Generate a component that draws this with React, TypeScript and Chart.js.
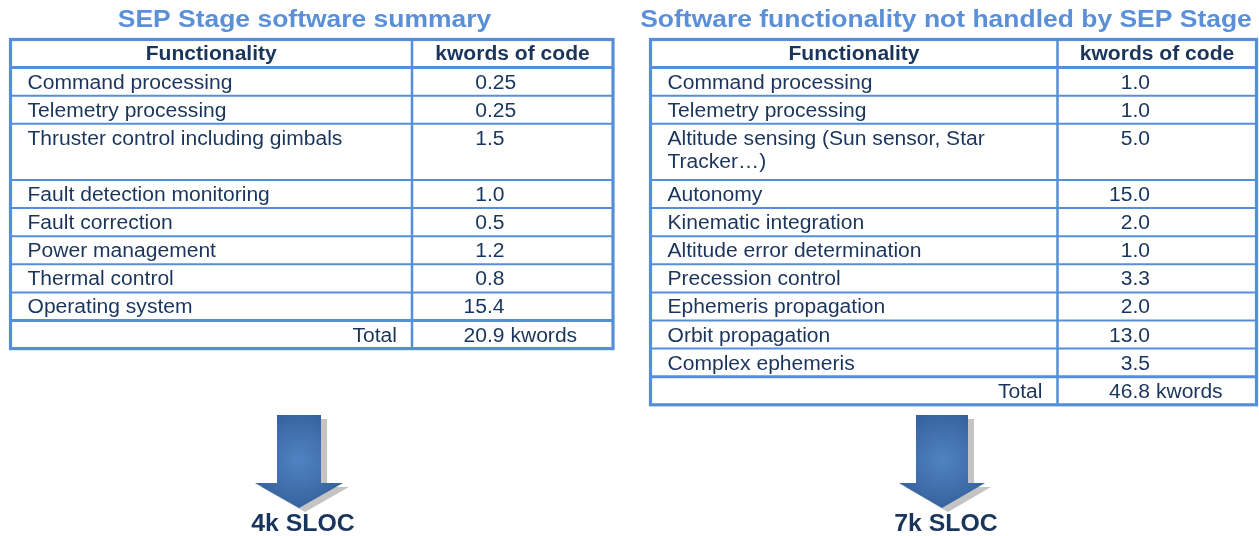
import React, { useEffect, useRef } from "react";
import { Chart, registerables } from "chart.js";

Chart.register(...registerables);

// ---------- data ----------
const LEFT_TITLE = "SEP Stage software summary";
const RIGHT_TITLE = "Software functionality not handled by SEP Stage";
const HEADERS = ["Functionality", "kwords of code"];

const LEFT_FUNCTIONS = [
  "Command processing",
  "Telemetry processing",
  "Thruster control including gimbals",
  "Fault detection monitoring",
  "Fault correction",
  "Power management",
  "Thermal control",
  "Operating system",
];
const LEFT_KWORDS = [0.25, 0.25, 1.5, 1.0, 0.5, 1.2, 0.8, 15.4];

const RIGHT_FUNCTIONS = [
  "Command processing",
  "Telemetry processing",
  "Altitude sensing (Sun sensor, Star Tracker…)",
  "Autonomy",
  "Kinematic integration",
  "Altitude error determination",
  "Precession control",
  "Ephemeris propagation",
  "Orbit propagation",
  "Complex ephemeris",
];
const RIGHT_KWORDS = [1.0, 1.0, 5.0, 15.0, 2.0, 1.0, 3.3, 2.0, 13.0, 3.5];

const TOTAL_LABEL = "Total";
const TOTAL_UNIT = "kwords";
const LEFT_SLOC = "4k SLOC";
const RIGHT_SLOC = "7k SLOC";

// ---------- layout / style ----------
const W = 1259;
const H = 536;
const SX = 1.08; // horizontal text stretch
const LINE = "#568fd7";
const TITLE_C = "#5b90d8";
const TEXT_C = "#1a355c";
const FONT = "Arial, 'Liberation Sans', Helvetica, sans-serif";

const LEFT_ROW_LINES = [1, 1, 2, 1, 1, 1, 1, 1];
const RIGHT_ROW_LINES = [1, 1, 2, 1, 1, 1, 1, 1, 1, 1];

const fmt = (v: number) =>
  Math.abs(v * 10 - Math.round(v * 10)) < 1e-9 ? v.toFixed(1) : String(v);

const sum = (a: number[]) => Math.round(a.reduce((s, v) => s + v, 0) * 100) / 100;

type TableCfg = {
  title: string;
  titleX: number;
  left: number;
  divider: number;
  right: number;
  top: number;
  rowH: number;
  labels: string[];
  values: number[];
  lines: number[];
  decX: number;
};

function sText(ctx: CanvasRenderingContext2D, s: string, x: number, y: number, align: CanvasTextAlign) {
  ctx.save();
  ctx.translate(x, y);
  ctx.scale(SX, 1);
  ctx.textAlign = align;
  ctx.textBaseline = "alphabetic";
  ctx.fillText(s, 0, 0);
  ctx.restore();
}
const sWidth = (ctx: CanvasRenderingContext2D, s: string) => ctx.measureText(s).width * SX;

function wrap(ctx: CanvasRenderingContext2D, s: string, maxW: number): string[] {
  const words = s.split(" ");
  const out: string[] = [];
  let cur = "";
  for (const w of words) {
    const t = cur ? cur + " " + w : w;
    if (cur && sWidth(ctx, t) > maxW) {
      out.push(cur);
      cur = w;
    } else cur = t;
  }
  if (cur) out.push(cur);
  return out;
}

function drawDecimal(ctx: CanvasRenderingContext2D, s: string, decX: number, y: number) {
  const i = s.indexOf(".");
  const intPart = i >= 0 ? s.slice(0, i) : s;
  const w = sWidth(ctx, intPart);
  sText(ctx, s, decX - w, y, "left");
}

function drawTable(ctx: CanvasRenderingContext2D, X: (v: number) => number, Y: (v: number) => number, c: TableCfg) {
  // title
  ctx.fillStyle = TITLE_C;
  ctx.font = `bold 24.5px ${FONT}`;
  sText(ctx, c.title, X(c.titleX), Y(27), "center");

  // rows positions
  const ys: number[] = [c.top, c.top + c.rowH];
  c.lines.forEach((n) => ys.push(ys[ys.length - 1] + n * c.rowH));
  ys.push(ys[ys.length - 1] + c.rowH);
  const bottom = ys[ys.length - 1];

  // header text
  ctx.fillStyle = TEXT_C;
  ctx.font = `bold 19.5px ${FONT}`;
  sText(ctx, HEADERS[0], X((c.left + c.divider) / 2), Y(c.top + 20), "center");
  sText(ctx, HEADERS[1], X((c.divider + c.right) / 2), Y(c.top + 20), "center");

  // body
  ctx.font = `19.5px ${FONT}`;
  const maxW = X(c.divider) - X(c.left) - 30;
  c.labels.forEach((lab, i) => {
    const y0 = ys[i + 1];
    const lines = wrap(ctx, lab, maxW);
    lines.forEach((ln, k) => sText(ctx, ln, X(c.left + 17), Y(y0 + 21 + k * 23.5), "left"));
    drawDecimal(ctx, fmt(c.values[i]), X(c.decX), Y(y0 + 21));
  });
  // total row
  const yt = ys[ys.length - 2];
  sText(ctx, TOTAL_LABEL, X(c.divider - 15), Y(yt + 21), "right");
  drawDecimal(ctx, `${fmt(sum(c.values))} ${TOTAL_UNIT}`, X(c.decX), Y(yt + 21));

  // grid lines
  ctx.strokeStyle = LINE;
  const hline = (y: number, lw: number) => {
    ctx.lineWidth = lw;
    ctx.beginPath();
    ctx.moveTo(X(c.left), Y(y));
    ctx.lineTo(X(c.right), Y(y));
    ctx.stroke();
  };
  for (let i = 2; i < ys.length - 2; i++) hline(ys[i], 2);
  hline(ys[1], 3);
  hline(ys[ys.length - 2], 3);
  ctx.lineWidth = 2.5;
  ctx.beginPath();
  ctx.moveTo(X(c.divider), Y(c.top));
  ctx.lineTo(X(c.divider), Y(bottom));
  ctx.stroke();
  ctx.lineWidth = 3.2;
  ctx.strokeRect(X(c.left), Y(c.top), X(c.right) - X(c.left), Y(bottom) - Y(c.top));
}

function drawArrow(
  ctx: CanvasRenderingContext2D,
  X: (v: number) => number,
  Y: (v: number) => number,
  cx: number,
  sw: number,
  hw: number,
  label: string,
  labelX: number
) {
  const top = 415, headY = 483, tip = 508;
  const path = (dx: number, dy: number) => {
    ctx.beginPath();
    ctx.moveTo(X(cx - sw + dx), Y(top + dy));
    ctx.lineTo(X(cx + sw + dx), Y(top + dy));
    ctx.lineTo(X(cx + sw + dx), Y(headY + dy));
    ctx.lineTo(X(cx + hw + dx), Y(headY + dy));
    ctx.lineTo(X(cx + dx), Y(tip + dy));
    ctx.lineTo(X(cx - hw + dx), Y(headY + dy));
    ctx.lineTo(X(cx - sw + dx), Y(headY + dy));
    ctx.closePath();
  };
  // shadow
  ctx.fillStyle = "#c4c4c4";
  path(6, 4);
  ctx.fill();
  // body
  const g = ctx.createRadialGradient(X(cx), Y(460), 2, X(cx), Y(460), 60);
  g.addColorStop(0, "#4f82c0");
  g.addColorStop(1, "#2f5b96");
  ctx.fillStyle = g;
  path(0, 0);
  ctx.fill();
  // label
  ctx.fillStyle = TEXT_C;
  ctx.font = `bold 23px ${FONT}`;
  sText(ctx, label, X(labelX), Y(531), "center");
}

const tablesPlugin = {
  id: "tables",
  afterDraw(chart: any) {
    const ctx: CanvasRenderingContext2D = chart.ctx;
    const xs = chart.scales.x;
    const ys = chart.scales.y;
    const X = (v: number) => xs.getPixelForValue(v);
    const Y = (v: number) => ys.getPixelForValue(v);
    ctx.save();
    drawTable(ctx, X, Y, {
      title: LEFT_TITLE,
      titleX: 304.5,
      left: 10.5,
      divider: 412,
      right: 613,
      top: 39.5,
      rowH: 28.1,
      labels: LEFT_FUNCTIONS,
      values: LEFT_KWORDS,
      lines: LEFT_ROW_LINES,
      decX: 487,
    });
    drawTable(ctx, X, Y, {
      title: RIGHT_TITLE,
      titleX: 946,
      left: 650.5,
      divider: 1057.5,
      right: 1256.5,
      top: 39.5,
      rowH: 28.1,
      labels: RIGHT_FUNCTIONS,
      values: RIGHT_KWORDS,
      lines: RIGHT_ROW_LINES,
      decX: 1132.5,
    });
    drawArrow(ctx, X, Y, 299, 22, 44, LEFT_SLOC, 303);
    drawArrow(ctx, X, Y, 942, 26, 43, RIGHT_SLOC, 946);
    ctx.restore();
  },
};

export default function App() {
  const ref = useRef<HTMLCanvasElement | null>(null);
  useEffect(() => {
    if (!ref.current) return;
    const chart = new Chart(ref.current, {
      type: "scatter",
      data: { datasets: [] },
      options: {
        animation: false,
        responsive: false,
        devicePixelRatio: 1,
        events: [],
        layout: { padding: 0 },
        plugins: { legend: { display: false }, tooltip: { enabled: false } },
        scales: {
          x: { type: "linear", min: 0, max: W, display: false },
          y: { type: "linear", min: 0, max: H, reverse: true, display: false },
        },
      },
      plugins: [tablesPlugin],
    } as any);
    return () => chart.destroy();
  }, []);
  return (
    <div style={{ position: "fixed", left: 0, top: 0, width: W, height: H, background: "#fff" }}>
      <canvas ref={ref} width={W} height={H} style={{ width: W, height: H, display: "block" }} />
    </div>
  );
}
